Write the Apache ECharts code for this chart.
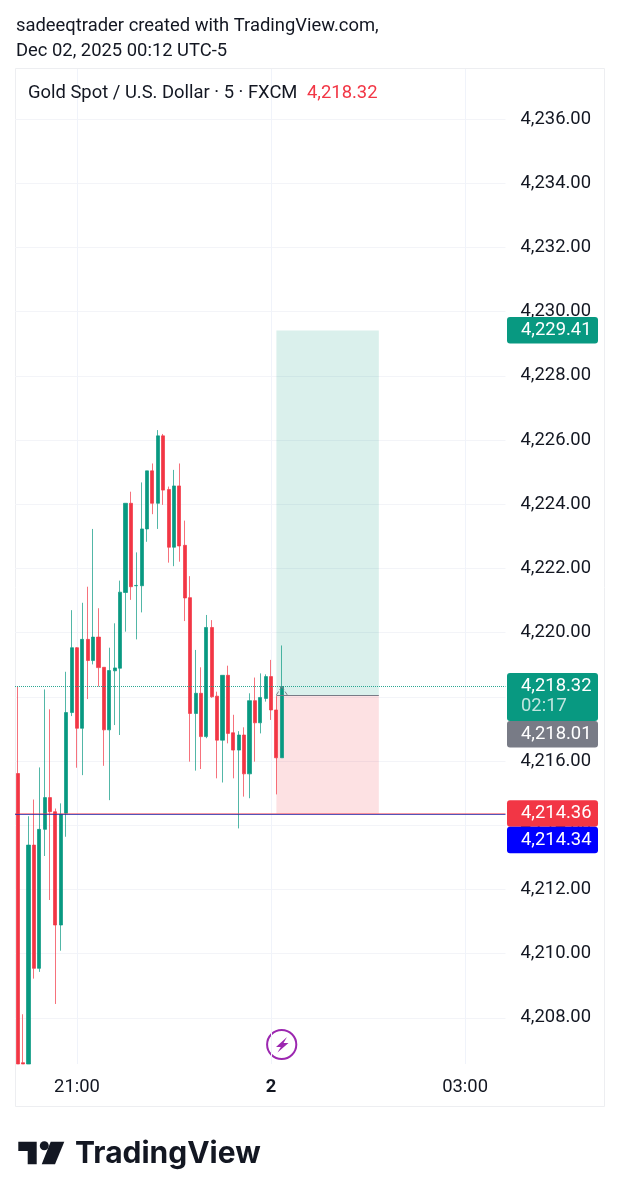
<!DOCTYPE html>
<html>
<head>
<meta charset="utf-8">
<style>
  html, body { margin: 0; padding: 0; background: #fff; }
  #chart { width: 620px; height: 1200px; }
</style>
<script src="https://cdn.jsdelivr.net/npm/echarts@6/dist/echarts.min.js"></script>
</head>
<body>
<div id="chart"></div>
<script>
const UP = '#089981';
const DOWN = '#F23645';
const TEXT = '#131722';
const FONT = 'Roboto';
const SIZE = 18.4;

// five minute candles, first one at 20:05
const opens = [4215.61, 4206.60, 4206.56, 4213.38, 4209.54, 4213.87, 4214.86, 4214.42, 4210.89, 4214.37,
  4217.51, 4219.53, 4217.02, 4219.79, 4219.13, 4219.86, 4218.92, 4216.97, 4218.81, 4218.89,
  4221.25, 4224.03, 4221.46, 4221.46, 4223.23, 4225.04, 4224.03, 4226.13, 4224.46, 4222.66,
  4224.57, 4222.72, 4221.09, 4217.48, 4218.11, 4216.76, 4220.16, 4218.02, 4216.65, 4218.67,
  4216.88, 4216.34, 4216.81, 4215.60, 4217.88, 4217.19, 4217.95, 4218.63, 4217.59, 4216.10];
const closes = [4206.56, 4206.56, 4213.38, 4209.54, 4213.87, 4214.86, 4214.42, 4210.89, 4214.34, 4217.51,
  4219.53, 4217.02, 4219.79, 4219.13, 4219.86, 4218.91, 4216.97, 4218.82, 4218.90, 4221.26,
  4224.03, 4221.43, 4221.47, 4223.23, 4225.04, 4224.03, 4226.13, 4224.44, 4222.66, 4224.57,
  4222.70, 4221.08, 4217.48, 4218.11, 4216.76, 4220.16, 4218.00, 4216.65, 4218.67, 4216.86,
  4216.34, 4216.81, 4215.60, 4217.88, 4217.19, 4217.98, 4218.63, 4217.59, 4216.10, 4218.32];
const lows = [4206.56, 4206.56, 4206.56, 4209.22, 4209.43, 4213.04, 4211.67, 4208.43, 4210.09, 4213.64,
  4217.40, 4215.79, 4215.56, 4217.93, 4219.01, 4218.32, 4215.85, 4214.78, 4217.12, 4216.81,
  4220.03, 4221.02, 4219.79, 4220.63, 4222.83, 4223.69, 4223.23, 4223.98, 4222.18, 4222.07,
  4222.21, 4220.36, 4215.98, 4215.70, 4215.75, 4216.71, 4217.97, 4215.46, 4215.33, 4216.55,
  4215.46, 4213.90, 4214.89, 4214.84, 4215.98, 4216.86, 4217.85, 4217.28, 4214.96, 4216.10];
const highs = [4218.32, 4208.11, 4214.28, 4214.80, 4215.80, 4218.23, 4217.61, 4214.52, 4214.68, 4218.78,
  4220.70, 4219.55, 4220.93, 4221.43, 4223.23, 4220.76, 4218.92, 4219.53, 4220.29, 4221.62,
  4224.03, 4224.39, 4222.50, 4224.68, 4225.04, 4225.27, 4226.31, 4226.19, 4224.55, 4225.07,
  4225.27, 4223.49, 4221.76, 4219.46, 4218.92, 4220.55, 4220.39, 4218.16, 4218.67, 4218.97,
  4217.44, 4216.93, 4217.05, 4218.11, 4218.60, 4218.73, 4218.70, 4219.15, 4218.02, 4219.60];

const priceTicks = [4208, 4210, 4212, 4214, 4216, 4218, 4220, 4222, 4224, 4226, 4228, 4230, 4232, 4234, 4236];
const timeTicks = ['21:00', '00:00', '03:00'];
const timeTickLabels = ['21:00', '{day|2}', '03:00'];

const lastPrice = 4218.32;
const targetPrice = 4229.41;
const entryPrice = 4218.06;
const stopPrice = 4214.36;
const lineBlue = 4214.34;
const positionStart = '00:05';
const positionMid = '00:10';
const positionNext = '00:15';
const positionEnd = '01:40';

const tagPrices = [4229.41, 4218.32, 4218.01, 4214.36, 4214.34];
const tagTexts = ['4,229.41', '4,218.32', '4,218.01', '4,214.36', '4,214.34'];
const tagNotes = ['', '02:17', '', '', ''];
const tagColors = [UP, UP, '#787B86', DOWN, '#0000FF'];

// time slots, the chart leaves empty room on the right
const categories = [];
for (let i = 0; i < 91; i++) {
    const mins = (20 * 60 + 5 + i * 5) % 1440;
    categories.push(String(Math.floor(mins / 60)).padStart(2, '0') + ':' + String(mins % 60).padStart(2, '0'));
}

const isTimeTick = (index, value) => timeTicks.includes(value);

let tagBottom = 0;
function renderTag(params, api) {
    const i = params.dataIndex;
    if (i === 0) tagBottom = 0;
    const h = tagNotes[i] ? 48 : 26.5;
    let top = api.coord([api.value(0), api.value(1)])[1] - 13.5;
    // tags that would overlap get pushed down, like on the real price scale
    if (top < tagBottom) top = tagBottom;
    tagBottom = top + h;
    const x = params.coordSys.x + params.coordSys.width + 1.5;
    const font = SIZE + 'px ' + FONT;
    const children = [
        { type: 'rect', shape: { x: x, y: top, width: 91, height: h, r: 3 }, style: { fill: tagColors[i] } },
        { type: 'text', style: { x: x + 14, y: top + 13.5, text: tagTexts[i], fill: '#fff', font: font, align: 'left', verticalAlign: 'middle' } }
    ];
    if (tagNotes[i]) {
        children.push({ type: 'text', style: { x: x + 14, y: top + 33, text: tagNotes[i], fill: 'rgba(255,255,255,0.75)', font: font, align: 'left', verticalAlign: 'middle' } });
    }
    return { type: 'group', children: children };
}

const chart = echarts.init(document.getElementById('chart'));
chart.setOption({
    animation: false,
    backgroundColor: '#fff',
    title: [
        { text: 'sadeeqtrader created with TradingView.com,', left: 16, top: 17, padding: 0, textStyle: { color: TEXT, fontFamily: FONT, fontSize: SIZE, fontWeight: 'normal' } },
        { text: 'Dec 02, 2025 00:12 UTC-5', left: 16, top: 42, padding: 0, textStyle: { color: TEXT, fontFamily: FONT, fontSize: SIZE, fontWeight: 'normal' } },
        { text: 'Gold Spot / U.S. Dollar · 5 · FXCM', left: 28, top: 84, padding: 0, textStyle: { color: TEXT, fontFamily: FONT, fontSize: SIZE, fontWeight: 'normal' } },
        { text: '4,218.32', left: 307, top: 84, padding: 0, textStyle: { color: DOWN, fontFamily: FONT, fontSize: SIZE, fontWeight: 'normal' } }
    ],
    grid: { left: 15, top: 69, width: 490.5, height: 995 },
    xAxis: {
        type: 'category',
        data: categories,
        boundaryGap: true,
        axisLine: { show: false },
        axisTick: { show: false },
        axisLabel: {
            interval: isTimeTick,
            margin: 14,
            color: TEXT,
            fontFamily: FONT,
            fontSize: SIZE,
            formatter: value => timeTickLabels[timeTicks.indexOf(value)],
            rich: { day: { color: TEXT, fontFamily: FONT, fontSize: SIZE, fontWeight: 'bold' } }
        },
        splitLine: { show: true, interval: isTimeTick, alignWithLabel: true, lineStyle: { color: '#F0F3FA', width: 1 } }
    },
    yAxis: {
        type: 'value',
        position: 'right',
        min: 4206.56,
        max: 4237.56,
        axisLine: { show: false },
        axisTick: { show: false, customValues: priceTicks },
        axisLabel: {
            customValues: priceTicks,
            margin: 15,
            padding: [0, 0, 10, 0],
            color: TEXT,
            fontFamily: FONT,
            fontSize: SIZE,
            formatter: value => value.toLocaleString('en-US', { minimumFractionDigits: 2, maximumFractionDigits: 2 })
        },
        splitLine: { show: true, lineStyle: { color: '#F3F4F8', width: 1 } }
    },
    series: [
        {
            type: 'candlestick',
            silent: true,
            barWidth: 3.6,
            data: opens.map((open, i) => [open, closes[i], lows[i], highs[i]]),
            itemStyle: {
                color: UP,
                color0: DOWN,
                borderColor: 'rgba(8,153,129,0.7)',
                borderColor0: 'rgba(242,54,69,0.7)',
                borderWidth: 1
            },
            markArea: {
                silent: true,
                data: [
                    [{ xAxis: positionStart, yAxis: targetPrice, itemStyle: { color: 'rgba(8,153,129,0.15)' } }, { xAxis: positionEnd, yAxis: entryPrice }],
                    [{ xAxis: positionStart, yAxis: entryPrice, itemStyle: { color: 'rgba(242,54,69,0.15)' } }, { xAxis: positionEnd, yAxis: stopPrice }]
                ]
            },
            markLine: {
                silent: true,
                symbol: 'none',
                label: { show: false },
                data: [
                    { yAxis: lastPrice, lineStyle: { color: UP, type: 'dotted', width: 1, opacity: 0.85 } },
                    { yAxis: stopPrice, lineStyle: { color: DOWN, type: 'solid', width: 1, opacity: 0.5 } },
                    { yAxis: lineBlue, lineStyle: { color: '#2A2AA8', type: 'solid', width: 1.2, opacity: 0.8 } },
                    [{ coord: [positionStart, entryPrice], lineStyle: { color: '#787B86', type: 'solid', width: 1 } }, { coord: [positionEnd, entryPrice] }],
                    [{ coord: [positionStart, entryPrice], lineStyle: { color: '#787B86', type: 'dashed', width: 1 } }, { coord: [positionMid, lastPrice] }],
                    [{ coord: [positionMid, lastPrice], lineStyle: { color: '#787B86', type: 'dashed', width: 1 } }, { coord: [positionNext, entryPrice] }]
                ]
            }
        },
        {
            type: 'custom',
            silent: true,
            renderItem: renderTag,
            data: tagPrices.map(price => [categories.length - 1, price]),
            encode: { x: 0, y: 1 },
            z: 10
        }
    ],
    graphic: [
        { type: 'rect', silent: true, z: -1, shape: { x: 15.5, y: 68.5, width: 589, height: 1038 }, style: { fill: 'none', stroke: '#EDEEF1', lineWidth: 1 } },
        // lightning marker under the candles
        { type: 'circle', silent: true, shape: { cx: 281.7, cy: 1044.5, r: 14.6 }, style: { fill: '#fff', stroke: '#9C27B0', lineWidth: 2 } },
        { type: 'polygon', silent: true, shape: { points: [[287, 1037], [276, 1047], [280.8, 1047], [277.5, 1052.5], [288.5, 1043], [283.5, 1043]] }, style: { fill: '#9C27B0' } },
        // logo
        { type: 'polygon', silent: true, shape: { points: [[18.3, 1141.7], [36.7, 1141.7], [36.7, 1164.3], [27.7, 1164.3], [27.7, 1151], [18.3, 1151]] }, style: { fill: TEXT } },
        { type: 'circle', silent: true, shape: { cx: 44.3, cy: 1145.7, r: 4.5 }, style: { fill: TEXT } },
        { type: 'polygon', silent: true, shape: { points: [[50.7, 1141.7], [64.3, 1141.7], [55, 1164.3], [41.7, 1164.3]] }, style: { fill: TEXT } },
        { type: 'text', silent: true, style: { x: 75, y: 1153.5, text: 'TradingView', fill: TEXT, font: '700 30px Inter', align: 'left', verticalAlign: 'middle' } }
    ]
});
</script>
</body>
</html>
